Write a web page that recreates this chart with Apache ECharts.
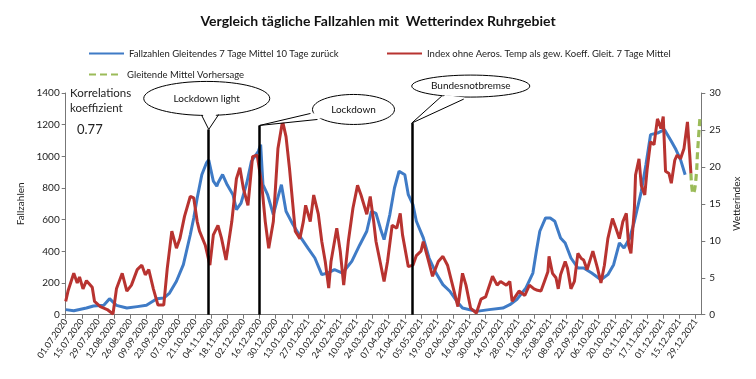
<!DOCTYPE html>
<html>
<head>
<meta charset="utf-8">
<script src="https://cdn.jsdelivr.net/npm/echarts@6/dist/echarts.min.js"></script>
<style>html,body{margin:0;padding:0;background:#fff}#c{width:756px;height:379px}</style>
</head>
<body>
<div id="c"></div>
<script>
// ---- data (days counted from 01.07.2020) ----
const startDate = '2020-07-01';
const dayCount = 552;
const tickEvery = 14;

const blueName = 'Fallzahlen Gleitendes 7 Tage Mittel 10 Tage zurück';
const redName = 'Index ohne Aeros. Temp als gew. Koeff. Gleit. 7 Tage Mittel';
const greenName = 'Gleitende Mittel Vorhersage';

const blueDays = [0,7,18,24,33,38,44,53,62,70,79,85,90,96,102,108,111,114,118,122,124,128,131,132,136,140,145,148,152,157,161,167,169,171,175,180,183,187,191,197,204,210,216,222,227,233,240,248,255,261,265,269,273,276,281,285,289,294,297,301,304,310,315,321,327,333,339,344,356,367,379,385,391,399,405,408,411,416,420,424,429,433,438,444,449,456,464,470,475,480,484,489,493,499,503,507,513,519,525,529,533,537];
const blueVals = [32,25,42,55,59,101,59,42,51,59,101,105,137,211,316,505,611,737,884,958,977,843,811,832,885,820,758,663,705,832,969,1032,1074,821,758,632,716,821,653,569,485,421,358,253,263,284,263,337,442,527,653,640,540,474,632,800,906,884,758,695,590,485,358,263,190,148,85,42,21,32,42,63,95,169,263,400,527,611,611,590,485,453,358,295,295,263,221,253,316,453,421,485,590,779,947,1137,1147,1169,1095,1043,979,884];

const redDays = [0,2,7,10,12,15,18,23,25,30,36,41,44,49,53,57,62,66,69,72,76,80,85,88,92,96,99,103,108,111,114,116,121,125,128,132,135,139,144,148,151,154,158,162,166,170,173,176,180,184,188,191,194,199,203,206,208,212,215,219,222,225,228,230,235,238,241,245,249,253,256,261,264,267,269,272,276,279,283,287,290,292,297,301,304,308,310,314,318,323,327,331,336,340,344,347,351,356,360,364,370,374,377,382,385,387,393,398,402,406,409,412,415,418,419,422,425,427,429,433,435,438,441,444,447,449,452,457,461,464,467,470,474,477,480,483,486,488,490,493,494,497,499,502,504,507,510,513,516,518,520,523,525,528,530,533,536,539,541,542];
const redVals = [1.8,3.2,5.6,4.3,5.1,3.5,4.6,3.7,1.8,1.1,0.7,0.1,3.5,5.6,3.2,4.0,6.1,6.7,5.4,6.1,3.5,1.3,1.3,6.2,11.3,9.0,10.3,13.3,16.0,15.8,12.6,11.3,9.4,6.7,10.8,12.1,10.4,7.4,12.6,18.4,19.9,17.1,14.8,21.4,21.6,17.5,12.6,9.0,12.6,22.5,26.2,24.1,19.8,11.3,10.3,12.6,14.8,12.6,16.2,13.6,9.9,7.2,3.6,7.2,11.7,8.6,4.0,9.9,14.4,17.5,16.2,13.6,16.0,12.6,9.9,7.6,4.5,7.2,12.1,11.7,13.7,10.8,6.5,6.7,8.0,8.6,9.9,7.6,5.2,7.2,7.9,6.7,3.6,1.1,5.6,4.0,0.9,0.2,2.1,2.4,5.2,4.0,4.5,4.0,4.5,1.8,3.2,2.6,4.0,3.5,3.3,3.2,4.5,5.8,7.9,5.6,5.0,3.5,5.4,7.2,6.3,3.5,4.5,8.3,7.6,7.4,6.1,8.6,6.3,4.3,6.7,10.3,13.0,11.7,10.3,12.6,13.7,9.4,8.3,14.4,18.9,21.1,17.5,16.2,19.6,23.4,23.0,26.5,25.2,26.8,19.4,19.1,17.8,20.9,21.6,21.1,22.5,26.1,21.6,19.1];

const greenDays = [542,544,546,548,550];
const greenVals = [19.1,16.4,17.8,22.6,27.0];

const eventDays = [124,168,300];
const eventTops = [1170,1195,1210];
const eventLabels = ['Lockdown light','Lockdown','Bundesnotbremse'];

const corrLabel = ['Korrelations','koeffizient'];
const corrValue = '0.77';

// ---- build ----
function fmt(d){const p=n=>String(n).padStart(2,'0');return p(d.getUTCDate())+'.'+p(d.getUTCMonth()+1)+'.'+d.getUTCFullYear();}
const t0 = Date.parse(startDate+'T00:00:00Z');
const categories = [];
for(let i=0;i<dayCount;i++) categories.push(fmt(new Date(t0+i*86400000)));

const FONT = 'Lato, "Open Sans", sans-serif';
const chart = echarts.init(document.getElementById('c'), null, {renderer:'canvas'});
const legendCommon = {itemWidth:35,itemHeight:14,itemStyle:{opacity:0},textStyle:{fontSize:9.5,color:'#222'}};

const option = {
  animation:false,
  backgroundColor:'#fff',
  textStyle:{fontFamily:FONT,color:'#222'},
  title:{text:'Vergleich tägliche Fallzahlen mit  Wetterindex Ruhrgebiet',left:'center',top:9,
    textStyle:{fontSize:14,fontWeight:'bold',color:'#111',fontFamily:FONT}},
  legend:[
    Object.assign({data:[blueName],left:83,top:43},legendCommon),
    Object.assign({data:[redName],left:381,top:43},legendCommon),
    Object.assign({data:[greenName],left:83,top:64},legendCommon,{itemWidth:33})
  ],
  grid:{left:65.7,right:54.7,top:93,bottom:64.3,containLabel:false},
  xAxis:{type:'category',data:categories,boundaryGap:false,
    axisLine:{lineStyle:{color:'#777',width:1}},
    axisTick:{interval:tickEvery-1,length:4,lineStyle:{color:'#777'}},
    axisLabel:{interval:tickEvery-1,rotate:55,fontSize:9,color:'#222',margin:5,fontFamily:FONT}},
  yAxis:[
    {type:'value',min:0,max:1400,interval:200,name:'Fallzahlen',nameLocation:'middle',nameGap:38,
     nameTextStyle:{fontSize:10,color:'#222'},
     axisLine:{show:true,lineStyle:{color:'#777'}},axisTick:{show:true,length:4,lineStyle:{color:'#777'}},
     splitLine:{show:false},axisLabel:{fontSize:10,color:'#222',margin:6,formatter:v=>String(v)}},
    {type:'value',min:0,max:30,interval:5,name:'Wetterindex',nameLocation:'middle',nameGap:30,
     nameTextStyle:{fontSize:10,color:'#222'},position:'right',
     axisLine:{show:true,lineStyle:{color:'#777'}},axisTick:{show:true,length:4,lineStyle:{color:'#777'}},
     splitLine:{show:false},axisLabel:{fontSize:10,color:'#222',margin:8,formatter:v=>String(v)}}
  ],
  series:[
    {name:blueName,type:'line',yAxisIndex:0,symbol:'none',smooth:false,
     data:blueDays.map((d,i)=>[d,blueVals[i]]),
     lineStyle:{color:'#3f7bc6',width:3},itemStyle:{color:'#3f7bc6'},z:2,
     markLine:{silent:true,symbol:'none',label:{show:false},
       lineStyle:{color:'#000',width:2.5,type:'solid'},
       data:eventDays.map((d,i)=>[{coord:[d,0]},{coord:[d,eventTops[i]]}])}},
    {name:redName,type:'line',yAxisIndex:1,symbol:'none',
     data:redDays.map((d,i)=>[d,redVals[i]]),
     lineStyle:{color:'#b83330',width:3},itemStyle:{color:'#b83330'},z:3},
    {name:greenName,type:'line',yAxisIndex:1,symbol:'none',smooth:true,
     data:greenDays.map((d,i)=>[d,greenVals[i]]),
     lineStyle:{color:'#9bbb59',width:3.2,type:[7,4]},itemStyle:{color:'#9bbb59'},z:4}
  ]
};
chart.setOption(option);

// callouts anchored at the top of each event line
const shapes = [
  {c:[-2,-31],rx:63,ry:17,b1:[-7,-14],b2:[10,-15]},
  {c:[94,-16],rx:41,ry:15,b1:[51,-12],b2:[58,-6]},
  {c:[59,-37],rx:59,ry:11,b1:[30,-27],b2:[52,-24]}
];
const graphics = [];
eventDays.forEach((d,i)=>{
  const tip = chart.convertToPixel({xAxisIndex:0,yAxisIndex:0},[d,eventTops[i]]);
  const s = shapes[i];
  const cx = tip[0]+s.c[0], cy = tip[1]+s.c[1];
  const p1=[tip[0]+s.b1[0],tip[1]+s.b1[1]], p2=[tip[0]+s.b2[0],tip[1]+s.b2[1]];
  graphics.push({type:'ellipse',shape:{cx:cx,cy:cy,rx:s.rx,ry:s.ry},style:{fill:'#fff',stroke:'#000',lineWidth:1},z:100});
  const q1=[p1[0]+(cx-p1[0])*0.12,p1[1]+(cy-p1[1])*0.12], q2=[p2[0]+(cx-p2[0])*0.12,p2[1]+(cy-p2[1])*0.12];
  graphics.push({type:'polygon',shape:{points:[tip,q1,q2]},style:{fill:'#fff',stroke:null},z:101});
  graphics.push({type:'polyline',shape:{points:[p1,tip,p2]},style:{stroke:'#000',lineWidth:1,fill:null},z:102});
  graphics.push({type:'text',x:cx,y:cy,style:{text:eventLabels[i],fontSize:10,fontFamily:FONT,fill:'#111',align:'center',verticalAlign:'middle'},z:103});
});
graphics.push({type:'text',left:70,top:86,style:{text:corrLabel.join('\n'),fontSize:11.5,lineHeight:15,fontFamily:FONT,fill:'#222'},z:100});
graphics.push({type:'text',left:77,top:123,style:{text:corrValue,fontSize:13,fontFamily:FONT,fill:'#222'},z:100});
chart.setOption({graphic:graphics});
</script>
</body>
</html>
